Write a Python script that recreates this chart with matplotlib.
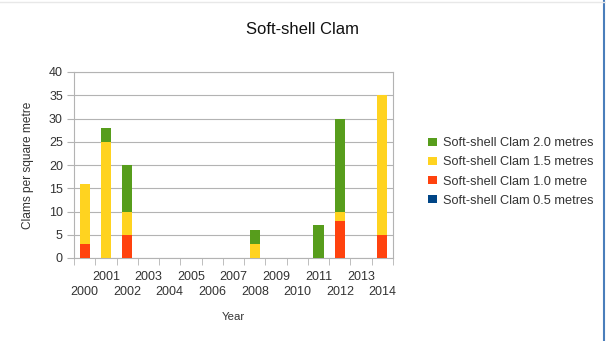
import numpy as np
import matplotlib.pyplot as plt
from matplotlib.lines import Line2D

years = list(range(2000, 2015))
clam_05 = [0, 0, 0, 0, 0, 0, 0, 0, 0, 0, 0, 0, 0, 0, 0]
clam_10 = [3, 0, 5, 0, 0, 0, 0, 0, 0, 0, 0, 0, 8, 0, 5]
clam_15 = [13, 25, 5, 0, 0, 0, 0, 0, 3, 0, 0, 0, 2, 0, 30]
clam_20 = [0, 3, 10, 0, 0, 0, 0, 0, 3, 0, 0, 7, 20, 0, 0]

names = ['Soft-shell Clam 0.5 metres', 'Soft-shell Clam 1.0 metre',
         'Soft-shell Clam 1.5 metres', 'Soft-shell Clam 2.0 metres']
colors = ['#004586', '#ff420e', '#ffd320', '#579d1c']

plt.rcParams['font.family'] = ['Liberation Sans', 'DejaVu Sans']
txt = '#333333'
grid = '#b3b3b3'

fig = plt.figure(figsize=(6.06, 3.41), dpi=100)
ax = fig.add_axes([74 / 606, (341 - 258) / 341, 319 / 606, 186 / 341])

x = np.arange(len(years))
bottom = np.zeros(len(years))
series = [clam_05, clam_10, clam_15, clam_20]
for vals, name, c in zip(series, names, colors):
    vals = np.array(vals, dtype=float)
    ax.bar(x, vals, width=0.48, bottom=bottom, color=c, label=name, zorder=3)
    bottom += vals

ax.set_xlim(-0.5, len(years) - 0.5)
ax.set_ylim(0, 40)
ax.set_yticks(range(0, 41, 5))
ax.yaxis.grid(True, color=grid, linewidth=0.8, zorder=0)

# odd years on the upper row (main axis), even years on the lower row
odd = [i for i, y in enumerate(years) if y % 2]
even = [i for i, y in enumerate(years) if y % 2 == 0]
ax.set_xticks(odd)
ax.set_xticklabels([str(years[i]) for i in odd], fontsize=9, color=txt)
ax.tick_params(axis='x', which='major', length=0, pad=9)
ax.set_xticks(np.arange(-0.5, len(years)), minor=True)
ax.tick_params(axis='x', which='minor', length=5, color=grid, direction='out')

sec = ax.secondary_xaxis('bottom')
sec.set_xticks(even)
sec.set_xticklabels([str(years[i]) for i in even], fontsize=9, color=txt)
sec.tick_params(axis='x', length=0, pad=20)
sec.spines['bottom'].set_visible(False)

ax.tick_params(axis='y', length=5, color=grid, labelsize=9, labelcolor=txt, pad=3)

for s in ax.spines.values():
    s.set_color(grid)
    s.set_linewidth(0.8)

sec.set_xlabel('Year', fontsize=8.2, color=txt, labelpad=10)
ax.set_ylabel('Clams per square metre', fontsize=8.6, color=txt, labelpad=11)
fig.text(302 / 606, 1 - 29 / 341, 'Soft-shell Clam', ha='center', va='center',
         fontsize=12, color='#111111')

handles, labs = ax.get_legend_handles_labels()
order = [3, 2, 1, 0]
leg = fig.legend([handles[i] for i in order], [labs[i] for i in order],
                 loc='center left', bbox_to_anchor=(417 / 606, 1 - 172 / 341),
                 frameon=False, fontsize=9.2, handlelength=0.65, handleheight=0.65,
                 handletextpad=0.45, labelspacing=0.55, labelcolor=txt)

fig.add_artist(Line2D([604 / 606, 604 / 606], [0, 1], color='#4a7ebb', linewidth=1.5))
fig.add_artist(Line2D([0, 1], [1 - 1.5 / 341, 1 - 1.5 / 341], color='#e8e8e8', linewidth=1))

fig.savefig('out.png', dpi=100)
